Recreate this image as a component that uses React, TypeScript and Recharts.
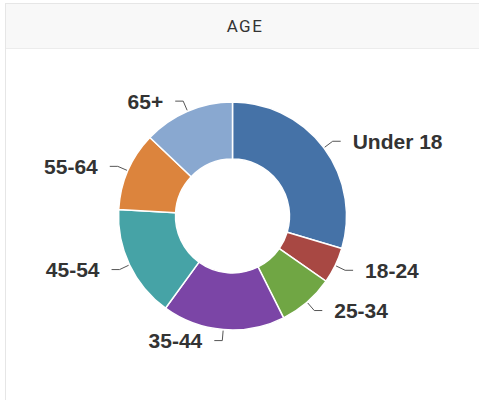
import { PieChart, Pie, Cell } from 'recharts'

const ageGroups = ['Under 18', '18-24', '25-34', '35-44', '45-54', '55-64', '65+']
const shares = [29.6, 5.1, 7.9, 17.4, 15.9, 11.2, 12.9]
const colors = ['#4572a7', '#a84843', '#70a644', '#7b45a6', '#46a3a6', '#dc843d', '#89a8d0']

const data = ageGroups.map((name, i) => ({ name, value: shares[i] }))

const RADIAN = Math.PI / 180

// highcharts-ish label: short radial stub, then a horizontal tick, then the text
function renderLabel(props: any) {
    const { cx, cy, midAngle, outerRadius, name } = props
    const cos = Math.cos(-midAngle * RADIAN)
    const sin = Math.sin(-midAngle * RADIAN)
    const sx = cx + (outerRadius + 1) * cos
    const sy = cy + (outerRadius + 1) * sin
    const mx = cx + (outerRadius + 11) * cos
    const my = cy + (outerRadius + 11) * sin
    const right = cos >= 0
    const ex = mx + (right ? 8 : -8)
    const tx = ex + (right ? 12 : -12)
    return (
        <g>
            <path d={`M${sx},${sy}L${mx},${my}L${ex},${my}`} stroke="#555" strokeWidth={1} fill="none" />
            <text
                x={tx}
                y={my}
                textAnchor={right ? 'start' : 'end'}
                dominantBaseline="central"
                fill="#333"
                fontSize={21}
                fontWeight="bold"
                fontFamily="'Liberation Sans', Arial, sans-serif"
            >
                {name}
            </text>
        </g>
    )
}

export default function App() {
    return (
        <div style={{ position: 'absolute', left: 0, top: 0, width: 479, height: 400, overflow: 'hidden', background: '#fff' }}>
            <div
                style={{
                    position: 'absolute',
                    left: 5,
                    top: 3,
                    width: 480,
                    height: 410,
                    border: '1px solid #e6e6e6',
                    boxSizing: 'border-box',
                }}
            >
                <div
                    style={{
                        height: 44,
                        background: '#f8f8f8',
                        borderBottom: '1px solid #ececec',
                        textAlign: 'center',
                        lineHeight: '44px',
                        fontFamily: 'Roboto, sans-serif',
                        fontSize: 17,
                        letterSpacing: 1.5,
                        color: '#333',
                    }}
                >
                    AGE
                </div>
            </div>
            <div style={{ position: 'absolute', left: 0, top: 0 }}>
                <PieChart width={479} height={400} margin={{ top: 0, right: 0, bottom: 0, left: 0 }}>
                    <Pie
                        data={data}
                        dataKey="value"
                        nameKey="name"
                        cx={232.5}
                        cy={216}
                        innerRadius={57}
                        outerRadius={114}
                        startAngle={90}
                        endAngle={-270}
                        stroke="#fff"
                        strokeWidth={1.5}
                        label={renderLabel}
                        labelLine={false}
                        isAnimationActive={false}
                    >
                        {data.map((d, i) => (
                            <Cell key={d.name} fill={colors[i]} />
                        ))}
                    </Pie>
                </PieChart>
            </div>
        </div>
    )
}
